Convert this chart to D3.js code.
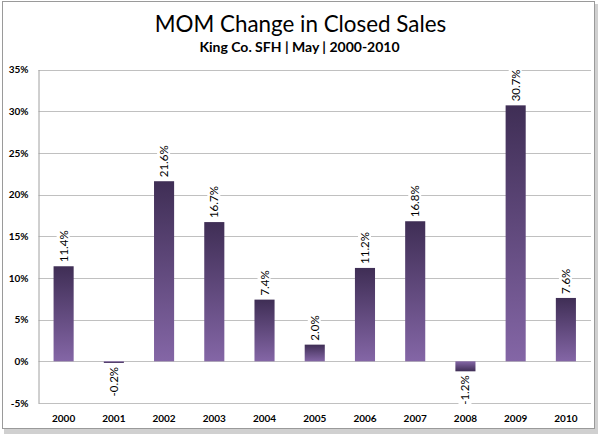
<!DOCTYPE html>
<html><head><meta charset="utf-8">
<script src="https://cdn.jsdelivr.net/npm/d3@7"></script>
<style>body{margin:0;background:#fff}svg{display:block}</style>
</head><body>
<svg id="c" width="600" height="435"></svg>
<script>
const years = ["2000","2001","2002","2003","2004","2005","2006","2007","2008","2009","2010"];
const values = [11.4,-0.2,21.6,16.7,7.4,2.0,11.2,16.8,-1.2,30.7,7.6];
const yTicks = [-5,0,5,10,15,20,25,30,35];
const title = "MOM Change in Closed Sales";
const subtitle = "King Co. SFH | May | 2000-2010";

(function(){
const svg = d3.select("#c");
const font = "Lato, 'Open Sans', sans-serif";

// frame
svg.append("rect").attr("x",4).attr("y",4).attr("width",594).attr("height",430).attr("fill","#d0d0d0");
svg.append("rect").attr("x",2.5).attr("y",1.5).attr("width",592).attr("height",427).attr("fill","#fff").attr("stroke","#9a9a9a").attr("stroke-width",1);

const pl = 38.5, pr = 591, pt = 69.5, pb = 403;
const x = d3.scaleBand().domain(years).range([pl,pr]).paddingInner(0.6).paddingOuter(0.3);
const y = d3.scaleLinear().domain([-5,35]).range([pb, pt]);

const defs = svg.append("defs");
const gPos = defs.append("linearGradient").attr("id","gp").attr("x1",0).attr("y1",0).attr("x2",0).attr("y2",1);
gPos.append("stop").attr("offset","0%").attr("stop-color","#3f2e55");
gPos.append("stop").attr("offset","100%").attr("stop-color","#8466a6");
const gNeg = defs.append("linearGradient").attr("id","gn").attr("x1",0).attr("y1",1).attr("x2",0).attr("y2",0);
gNeg.append("stop").attr("offset","0%").attr("stop-color","#3f2e55");
gNeg.append("stop").attr("offset","100%").attr("stop-color","#8466a6");

// gridlines
svg.append("g").selectAll("line").data(yTicks).join("line")
  .attr("x1",pl).attr("x2",pr)
  .attr("y1",d=>Math.round(y(d))+0.5).attr("y2",d=>Math.round(y(d))+0.5)
  .attr("stroke","#c0c0c0").attr("stroke-width",1);

// y axis
const yAxis = d3.axisLeft(y).tickValues(yTicks).tickFormat(d=>d+"%").tickSize(0).tickPadding(10);
const ya = svg.append("g").attr("transform",`translate(${pl},0)`).call(yAxis);
ya.select(".domain").attr("stroke","#a0a0a0");
ya.selectAll("text").attr("font-family",font).attr("font-weight","bold").attr("font-size",10).attr("fill","#000");

// x axis labels
const xAxis = d3.axisBottom(x).tickSize(0).tickPadding(10);
const xa = svg.append("g").attr("transform",`translate(0,${pb+2})`).call(xAxis);
xa.select(".domain").remove();
xa.selectAll("text").attr("font-family",font).attr("font-weight","bold").attr("font-size",10).attr("fill","#000");

// bars
svg.append("g").selectAll("rect").data(values).join("rect")
  .attr("x",(d,i)=>x(years[i]))
  .attr("width",x.bandwidth())
  .attr("y",d=>y(Math.max(0,d)))
  .attr("height",d=>Math.max(1,Math.abs(y(d)-y(0))))
  .attr("fill",d=>d>=0?"url(#gp)":"url(#gn)");

// value labels
const lab = svg.append("g").selectAll("g").data(values).join("g")
  .attr("transform",(d,i)=>{
    const cx = x(years[i])+x.bandwidth()/2;
    const yy = d>=0 ? y(d)-4 : y(d)+4;
    return `translate(${cx},${yy}) rotate(-90)`;
  });
lab.each(function(d){
  const g = d3.select(this);
  const t = g.append("text").text(d.toFixed(1)+"%")
    .attr("font-family",font).attr("font-size",11.5).attr("fill","#000")
    .attr("dy","0.35em")
    .attr("text-anchor", d>=0 ? "start" : "end");
  const bb = t.node().getBBox();
  g.insert("rect","text").attr("x",bb.x-2).attr("y",bb.y).attr("width",bb.width+4).attr("height",bb.height).attr("fill","#fff");
});

// titles
svg.append("text").attr("x",300.5).attr("y",32).attr("text-anchor","middle")
  .attr("font-family",font).attr("font-size",22.4).attr("fill","#000").text(title);
svg.append("text").attr("x",299.5).attr("y",52).attr("text-anchor","middle")
  .attr("font-family",font).attr("font-weight","bold").attr("font-size",14).attr("fill","#000").text(subtitle);
})();
</script>
</body></html>
